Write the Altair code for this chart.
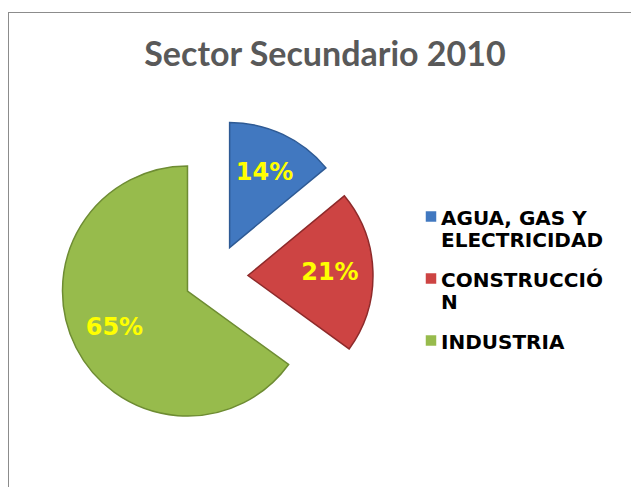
import altair as alt
import pandas as pd

title_text = "Sector Secundario 2010"
categories = ["AGUA, GAS Y ELECTRICIDAD", "CONSTRUCCIÓN", "INDUSTRIA"]
legend_labels = ["AGUA, GAS Y\nELECTRICIDAD", "CONSTRUCCIÓ\nN", "INDUSTRIA"]
values = [14, 21, 65]
colors = ["#4178C0", "#CD4443", "#97BB4C"]
strokes = ["#2E5A94", "#8E2A2A", "#6E8C33"]

W, H = 623, 475
CX, CY = 208, 264.5
R = 125
EXPLODE = 32
LABEL_R = 82
LEG_X, LEG_Y0, LEG_STEP = 423, 204.5, 62

df = pd.DataFrame({
    "category": categories,
    "legend": legend_labels,
    "value": values,
    "order": list(range(len(categories))),
})

base = (
    alt.Chart(df)
    .transform_joinaggregate(total="sum(value)")
    .transform_window(cum="sum(value)", sort=[alt.SortField("order")], frame=[None, 0])
    .transform_calculate(t1="2*PI*datum.cum/datum.total")
    .transform_calculate(t0="2*PI*(datum.cum-datum.value)/datum.total")
    .transform_calculate(mid="(datum.t0+datum.t1)/2")
    .transform_calculate(cx=f"{CX}+{EXPLODE}*sin(datum.mid)")
    .transform_calculate(cy=f"{CY}-{EXPLODE}*cos(datum.mid)")
    .transform_calculate(lx=f"datum.cx+{LABEL_R}*sin(datum.mid)")
    .transform_calculate(ly=f"datum.cy-{LABEL_R}*cos(datum.mid)")
    .transform_calculate(pct="datum.value + '%'")
    .transform_calculate(legy=f"{LEG_Y0}+{LEG_STEP}*datum.order")
)

color_enc = alt.Color("category:N", scale=alt.Scale(domain=categories, range=colors), legend=None)
stroke_enc = alt.Stroke("category:N", scale=alt.Scale(domain=categories, range=strokes), legend=None)

pie = base.mark_arc(outerRadius=R, strokeWidth=1.5).encode(
    theta=alt.Theta("t0:Q", scale=None),
    theta2=alt.Theta2("t1:Q"),
    x=alt.X("cx:Q", scale=None, axis=None),
    y=alt.Y("cy:Q", scale=None, axis=None),
    color=color_enc,
    stroke=stroke_enc,
)

labels = base.mark_text(font="DejaVu Sans", fontSize=24, fontWeight="bold", color="#FFFF00").encode(
    x=alt.X("lx:Q", scale=None, axis=None),
    y=alt.Y("ly:Q", scale=None, axis=None),
    text="pct:N",
)

leg_sym = base.mark_point(shape="square", filled=True, size=110, opacity=1).encode(
    x=alt.value(LEG_X),
    y=alt.Y("legy:Q", scale=None, axis=None),
    color=color_enc,
)

leg_txt = base.mark_text(
    align="left", baseline="top", lineBreak="\n", font="DejaVu Sans", fontWeight="bold",
    fontSize=20, lineHeight=22, dy=-7.5, color="#000000",
).encode(
    x=alt.value(LEG_X + 10),
    y=alt.Y("legy:Q", scale=None, axis=None),
    text="legend:N",
)

title = alt.Chart(pd.DataFrame({"title": [title_text]})).mark_text(
    font="Lato", fontSize=34, fontWeight="bold", color="#595959", baseline="alphabetic"
).encode(x=alt.value(317), y=alt.value(54), text="title:N")

one = pd.DataFrame({"b": [0]})
left_border = alt.Chart(one).mark_rule(color="#8c8c8c", strokeWidth=1).encode(
    x=alt.value(0.5), y=alt.value(0), y2=alt.value(H)
)
top_border = alt.Chart(one).mark_rule(color="#8c8c8c", strokeWidth=1).encode(
    x=alt.value(0), x2=alt.value(W), y=alt.value(0.5)
)

chart = alt.layer(left_border, top_border, title, pie, labels, leg_sym, leg_txt).properties(
    width=W, height=H,
    autosize=alt.AutoSizeParams(type="none"),
    padding={"left": 0, "top": 4, "right": 0, "bottom": 0},
).configure_view(stroke=None)

chart.save("out.html", embed_options={"renderer": "svg", "actions": False})
